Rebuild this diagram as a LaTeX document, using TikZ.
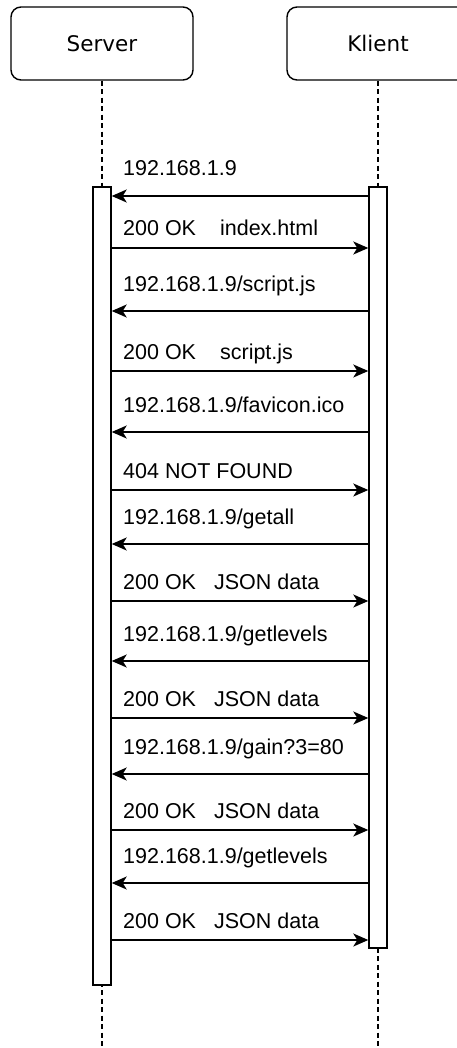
\documentclass[tikz,border=0pt]{standalone}
\usepackage{fontspec}
\setmainfont{Liberation Sans}
\newfontfamily\actorfont{DejaVu Sans}
\usetikzlibrary{arrows.meta}

\tikzset{
  actor/.style={draw, rounded corners=10pt, line width=1.4pt, minimum width=182pt,
    minimum height=73pt, inner sep=0pt, font=\actorfont\fontsize{21.5}{24}\selectfont},
  actbar/.style={draw, fill=white, line width=1.4pt, minimum width=18pt, inner sep=0pt},
  lifeline/.style={line width=1.4pt, dash pattern=on 5pt off 3.5pt},
  msg/.style={line width=1.5pt, -{Stealth[length=15pt,width=13pt,inset=4pt]}},
  msglabel/.style={anchor=base west, inner sep=0pt, font=\fontsize{21.5}{24}\selectfont}
}

\begin{document}
\begin{tikzpicture}[x=1pt,y=-1pt]
    \useasboundingbox (0,0) rectangle (457,1048);
    \node[actor] (server) at (102,43.5) {Server};
    \node[actor] (klient) at (378,43.5) {Klient};
    \coordinate (send) at (102,1048);
    \coordinate (kend) at (378,1048);
    \draw[lifeline] (server.south) -- (send);
    \draw[lifeline] (klient.south) -- (kend);
    \node[actbar, minimum height=798pt] (sbar) at (102,586) {};
    \node[actbar, minimum height=761pt] (kbar) at (378,567.5) {};
    \foreach \y/\txt [count=\i] in {196/{192.168.1.9}, 311/{192.168.1.9/script.js},
        432/{192.168.1.9/favicon.ico}, 544/{192.168.1.9/getall},
        661/{192.168.1.9/getlevels}, 774/{192.168.1.9/gain?3=80},
        883/{192.168.1.9/getlevels}}{
        \coordinate (qk\i) at (kbar.west |- 0,\y);
        \coordinate (qs\i) at (sbar.east |- 0,\y);
        \draw[msg] (qk\i) -- (qs\i);
        \node[msglabel] (ql\i) at (123,\y-20) {\txt};
    }
    \foreach \y/\txt [count=\i] in {248/{200 OK\hspace{24pt}index.html},
        371/{200 OK\hspace{24pt}script.js}, 490/{404 NOT FOUND},
        601/{200 OK\hspace{18pt}JSON data}, 718/{200 OK\hspace{18pt}JSON data},
        830/{200 OK\hspace{18pt}JSON data}, 940/{200 OK\hspace{18pt}JSON data}}{
        \coordinate (as\i) at (sbar.east |- 0,\y);
        \coordinate (ak\i) at (kbar.west |- 0,\y);
        \draw[msg] (as\i) -- (ak\i);
        \node[msglabel] (al\i) at (123,\y-12) {\txt};
    }
\end{tikzpicture}
\end{document}
